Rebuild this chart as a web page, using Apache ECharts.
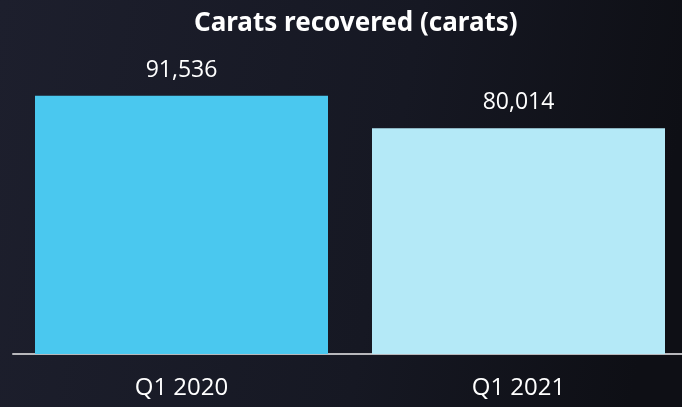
<!DOCTYPE html>
<html>
<head>
<meta charset="utf-8">
<script src="https://cdn.jsdelivr.net/npm/echarts@6/dist/echarts.min.js"></script>
<style>
  html, body { margin: 0; padding: 0; }
  #main { width: 682px; height: 407px; }
</style>
</head>
<body>
<div id="main"></div>
<script>
// data
var categories = ['Q1 2020', 'Q1 2021'];
var carats = [91536, 80014];
var barColors = ['#4ac8ef', '#b4e9f7'];

var chart = echarts.init(document.getElementById('main'));

var option = {
  backgroundColor: {
    type: 'linear', x: 0, y: 0, x2: 1, y2: 0.3,
    colorStops: [
      { offset: 0, color: '#1d1f2d' },
      { offset: 0.6, color: '#161823' },
      { offset: 1, color: '#0e0f15' }
    ]
  },
  title: {
    text: 'Carats recovered (carats)',
    left: 189,
    top: 6,
    textStyle: {
      color: '#ffffff',
      fontFamily: 'Noto Sans',
      fontWeight: 'bold',
      fontSize: 26
    }
  },
  grid: {
    left: 13,
    width: 674,
    top: 72,
    bottom: 53,
    outerBoundsMode: 'none'
  },
  xAxis: {
    type: 'category',
    data: categories,
    axisLine: { lineStyle: { color: '#b8b8bc', width: 2 } },
    axisTick: { show: false },
    axisLabel: {
      color: '#ffffff',
      fontFamily: 'Open Sans',
      fontSize: 24,
      margin: 22
    }
  },
  yAxis: {
    type: 'value',
    min: 0,
    max: 100000,
    show: false,
    splitLine: { show: false }
  },
  series: [{
    type: 'bar',
    barWidth: 293,
    data: carats.map(function (v, i) {
      return { value: v, itemStyle: { color: barColors[i] } };
    }),
    label: {
      show: true,
      position: 'top',
      distance: 14,
      color: '#ffffff',
      fontFamily: 'Open Sans',
      fontSize: 23,
      formatter: function (p) {
        return p.value.toLocaleString('en-US');
      }
    }
  }]
};

chart.setOption(option);
</script>
</body>
</html>
